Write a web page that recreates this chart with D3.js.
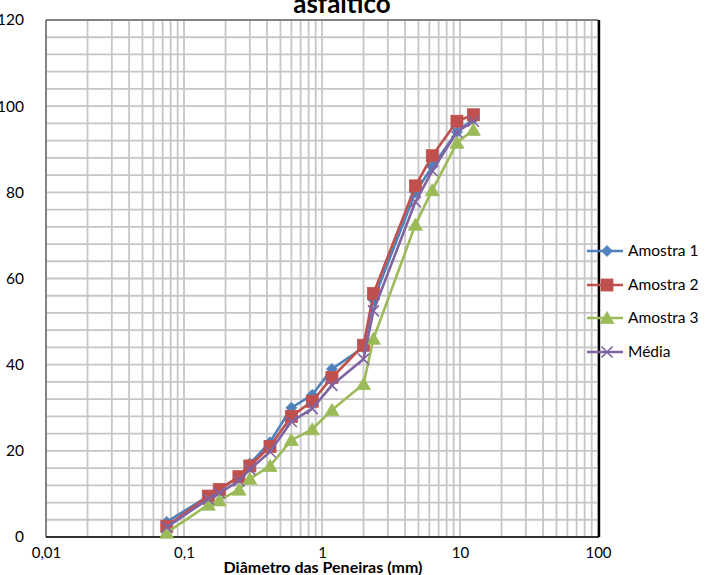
<!DOCTYPE html>
<html><head><meta charset="utf-8">
<script src="https://cdn.jsdelivr.net/npm/d3@7"></script>
<style>body{margin:0;background:#fff;overflow:hidden} svg{display:block} text{font-family:Lato,"Open Sans",sans-serif;fill:#000}</style>
</head><body><svg id="c" width="705" height="575"></svg>
<script>
const sieves   = [0.075,0.15,0.18,0.25,0.3,0.42,0.6,0.85,1.18,2.0,2.36,4.75,6.3,9.5,12.5];
const amostra1 = [3.5,9.5,11,14,17,22,30,33,39,44,55,80,86,94,97];
const amostra2 = [2.5,9.5,11,14,16.5,21,28,31.5,37,44.5,56.5,81.5,88.5,96.5,98];
const amostra3 = [1,7.5,8.5,11,13.5,16.5,22.5,25,29.5,35.5,46,72.5,80.5,91.5,94.5];
const media    = [2.3,8.8,10.2,13,15.7,19.8,26.8,29.8,35.2,41.3,52.5,77.8,85,94,96.5];
const seriesNames = ["Amostra 1","Amostra 2","Amostra 3","Média"];
const xTicks = [0.01,0.1,1,10,100];
const xTickLabels = ["0,01","0,1","1","10","100"];
const yTicks = [0,20,40,60,80,100,120];
const titleText = "asfáltico";
const xTitle = "Diâmetro das Peneiras  (mm)";

const colors = ["#4f81bd","#c0504d","#9bbb59","#8064a2"];
const shapes = ["diamond","square","triangle","x"];
const allSeries = [amostra1,amostra2,amostra3,media];

const svg = d3.select("#c");
const L=46,R=598,T=20,B=537;
const x = d3.scaleLog().domain([0.01,100]).range([L,R]);
const y = d3.scaleLinear().domain([0,120]).range([B,T]);

// grid
const g = svg.append("g");
g.selectAll("line.v").data(x.ticks()).enter().append("line")
  .attr("x1",d=>x(d)).attr("x2",d=>x(d)).attr("y1",T).attr("y2",B)
  .attr("stroke","#c6c6c6").attr("stroke-width",1.8);
g.selectAll("line.h").data(d3.range(0,121,4)).enter().append("line")
  .attr("x1",L).attr("x2",R).attr("y1",d=>y(d)).attr("y2",d=>y(d))
  .attr("stroke","#c6c6c6").attr("stroke-width",1.8);

// borders
svg.append("line").attr("x1",L).attr("x2",R).attr("y1",T).attr("y2",T).attr("stroke","#404040").attr("stroke-width",1.2);
svg.append("line").attr("x1",L).attr("x2",L).attr("y1",T).attr("y2",B).attr("stroke","#555").attr("stroke-width",1.2);
svg.append("line").attr("x1",L).attr("x2",R+1).attr("y1",B).attr("y2",B).attr("stroke","#000").attr("stroke-width",1.6);
svg.append("line").attr("x1",R+1).attr("x2",R+1).attr("y1",T).attr("y2",B).attr("stroke","#000").attr("stroke-width",2.4);

// axes labels
const xa = svg.append("g").attr("transform",`translate(0,${B})`)
  .call(d3.axisBottom(x).tickValues(xTicks).tickFormat((d,i)=>xTickLabels[i]).tickSize(0).tickPadding(10));
xa.select(".domain").remove();
xa.selectAll("text").attr("font-size",15).attr("font-family","Lato");
const ya = svg.append("g").attr("transform",`translate(24,0)`)
  .call(d3.axisLeft(y).tickValues(yTicks).tickSize(0).tickPadding(0));
ya.select(".domain").remove();
ya.selectAll("text").attr("font-size",15.5).attr("font-family","Lato");

function marker(sel, shape, color, r){
  if(shape==="diamond"){
    sel.append("path").attr("d",`M0,${-r}L${r},0L0,${r}L${-r},0Z`).attr("fill",color).attr("stroke",color).attr("stroke-width",0.8);
  } else if(shape==="square"){
    sel.append("rect").attr("x",-r).attr("y",-r).attr("width",2*r).attr("height",2*r).attr("fill",color).attr("stroke",color).attr("stroke-width",0.8);
  } else if(shape==="triangle"){
    sel.append("path").attr("d",`M0,${-r}L${r+0.5},${r*0.85}L${-r-0.5},${r*0.85}Z`).attr("fill",color).attr("stroke",color).attr("stroke-width",0.8);
  } else {
    sel.append("path").attr("d",`M${-r},${-r}L${r},${r}M${-r},${r}L${r},${-r}`).attr("stroke",color).attr("stroke-width",1.6).attr("fill","none");
  }
}
const rs = [5.5,6,6.5,5.5];

const line = d3.line().x(d=>x(d[0])).y(d=>y(d[1]));
allSeries.forEach((vals,i)=>{
  const pts = sieves.map((s,j)=>[s,vals[j]]);
  const sg = svg.append("g");
  sg.append("path").attr("d",line(pts)).attr("fill","none").attr("stroke",colors[i]).attr("stroke-width",2.6).attr("stroke-linejoin","round");
  sg.selectAll("g.m").data(pts).enter().append("g")
    .attr("transform",d=>`translate(${x(d[0])},${y(d[1])})`)
    .each(function(){ marker(d3.select(this), shapes[i], colors[i], rs[i]); });
});

// legend
const legY = [251,285,318,352];
seriesNames.forEach((n,i)=>{
  const lg = svg.append("g").attr("transform",`translate(0,${legY[i]})`);
  lg.append("line").attr("x1",587).attr("x2",623).attr("y1",0).attr("y2",0).attr("stroke",colors[i]).attr("stroke-width",2.6);
  const mg = lg.append("g").attr("transform","translate(607,0)");
  marker(mg, shapes[i], colors[i], rs[i]);
  lg.append("text").attr("x",628).attr("y",0).attr("dy","0.35em").attr("font-size",15.5).text(n);
});

// titles
svg.append("text").attr("x",342).attr("y",13).attr("text-anchor","middle").attr("font-size",26).attr("font-weight","bold").text(titleText);
svg.append("text").attr("x",323).attr("y",573).attr("text-anchor","middle").attr("font-size",16).attr("font-weight","bold").text(xTitle);
</script></body></html>
